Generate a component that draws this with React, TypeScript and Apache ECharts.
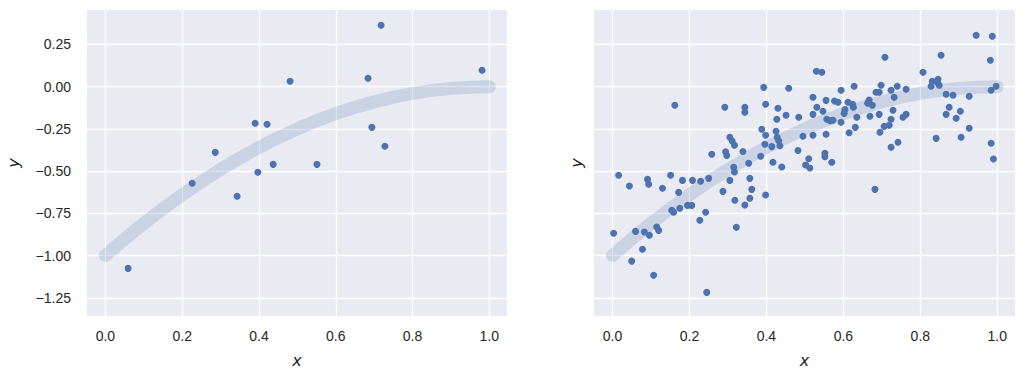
import React, { useEffect, useRef } from "react";
import * as echarts from "echarts";

// Left panel: 15 noisy samples
const leftX = [0.059, 0.226, 0.286, 0.343, 0.390, 0.397, 0.421, 0.437, 0.481, 0.551, 0.684, 0.694, 0.718, 0.728, 0.981];
const leftY = [-1.076, -0.572, -0.389, -0.649, -0.217, -0.507, -0.223, -0.460, 0.032, -0.460, 0.050, -0.241, 0.364, -0.353, 0.097];

// Right panel: ~150 noisy samples
const rightX = [
  0.162, 0.292, 0.305, 0.311, 0.317, 0.258, 0.294, 0.297, 0.016, 0.044,
  0.091, 0.094, 0.151, 0.130, 0.182, 0.208, 0.229, 0.250, 0.305, 0.315,
  0.317, 0.172, 0.287, 0.318, 0.154, 0.159, 0.175, 0.195, 0.206, 0.242,
  0.227, 0.322, 0.003, 0.060, 0.083, 0.096, 0.115, 0.120, 0.078, 0.050,
  0.107, 0.245, 0.530, 0.544, 0.393, 0.458, 0.594, 0.628, 0.521, 0.555,
  0.577, 0.586, 0.612, 0.624, 0.626, 0.663, 0.667, 0.344, 0.344, 0.398,
  0.430, 0.531, 0.547, 0.521, 0.451, 0.427, 0.484, 0.604, 0.602, 0.635,
  0.669, 0.557, 0.565, 0.573, 0.594, 0.631, 0.615, 0.388, 0.398, 0.425,
  0.428, 0.432, 0.435, 0.414, 0.396, 0.495, 0.521, 0.555, 0.339, 0.385,
  0.482, 0.510, 0.552, 0.552, 0.354, 0.417, 0.440, 0.502, 0.513, 0.570,
  0.357, 0.362, 0.357, 0.344, 0.398, 0.945, 0.987, 0.708, 0.854, 0.982,
  0.807, 0.831, 0.828, 0.846, 0.844, 0.849, 0.698, 0.740, 0.763, 0.724,
  0.685, 0.693, 0.732, 0.867, 0.885, 0.927, 0.984, 0.997, 0.675, 0.875,
  0.729, 0.904, 0.693, 0.763, 0.755, 0.724, 0.867, 0.893, 0.706, 0.719,
  0.695, 0.927, 0.841, 0.906, 0.742, 0.724, 0.984, 0.990, 0.682,
];
const rightY = [
  -0.110, -0.122, -0.300, -0.322, -0.347, -0.400, -0.385, -0.408, -0.525, -0.588,
  -0.549, -0.578, -0.525, -0.602, -0.555, -0.555, -0.560, -0.543, -0.555, -0.477,
  -0.505, -0.626, -0.620, -0.673, -0.732, -0.744, -0.720, -0.703, -0.703, -0.744,
  -0.791, -0.833, -0.868, -0.857, -0.861, -0.880, -0.831, -0.851, -0.963, -1.033,
  -1.117, -1.218, 0.091, 0.085, -0.004, -0.009, -0.021, 0.002, -0.063, -0.081,
  -0.085, -0.092, -0.092, -0.104, -0.122, -0.098, -0.079, -0.122, -0.152, -0.104,
  -0.128, -0.122, -0.146, -0.164, -0.169, -0.193, -0.181, -0.136, -0.158, -0.181,
  -0.175, -0.193, -0.201, -0.199, -0.211, -0.241, -0.273, -0.252, -0.288, -0.264,
  -0.300, -0.320, -0.350, -0.355, -0.341, -0.294, -0.288, -0.282, -0.384, -0.412,
  -0.378, -0.427, -0.395, -0.415, -0.454, -0.448, -0.476, -0.464, -0.482, -0.448,
  -0.543, -0.608, -0.661, -0.701, -0.642, 0.305, 0.299, 0.174, 0.186, 0.156,
  0.085, 0.032, 0.002, 0.044, 0.026, 0.008, 0.008, 0.002, -0.015, -0.021,
  -0.033, -0.033, -0.063, -0.045, -0.051, -0.057, -0.021, 0.002, -0.110, -0.122,
  -0.140, -0.146, -0.164, -0.164, -0.181, -0.193, -0.164, -0.187, -0.235, -0.229,
  -0.270, -0.246, -0.306, -0.300, -0.329, -0.359, -0.335, -0.428, -0.608,
];

// Underlying smooth trend drawn in both panels
const curveX = [0, 0.1, 0.2, 0.3, 0.4, 0.5, 0.6, 0.7, 0.8, 0.9, 1.0];
const curveY = [-1.0, -0.81, -0.64, -0.49, -0.36, -0.25, -0.16, -0.09, -0.04, -0.01, 0.0];

// Tick values
const xTicks = [0, 0.2, 0.4, 0.6, 0.8, 1.0];
const yTicks = [-1.25, -1.0, -0.75, -0.5, -0.25, 0, 0.25];

const zip = (a: number[], b: number[]) => a.map((v, i) => [v, b[i]]);
const fmt = (d: number) => (v: number) => {
  const s = Math.abs(v).toFixed(d);
  return v < -1e-9 ? "\u2212" + s : s;
};

const TICK_FONT = "Arial, 'Liberation Sans', sans-serif";
const LABEL_FONT = "'DejaVu Sans', sans-serif";
const TEXT = "#262626";
const DOT = "#4c72b0";

export default function App() {
  const ref = useRef<HTMLDivElement>(null);
  useEffect(() => {
    if (!ref.current) return;
    const chart = echarts.init(ref.current, undefined, { renderer: "svg" });
    const mkX = (i: number) => ({
      type: "value",
      gridIndex: i,
      min: -0.048,
      max: 1.046,
      axisLine: { show: false },
      axisTick: { show: false, customValues: xTicks },
      axisLabel: {
        customValues: xTicks,
        formatter: fmt(1),
        margin: 13,
        fontSize: 14,
        color: TEXT,
        fontFamily: TICK_FONT,
      },
      splitLine: { show: true, lineStyle: { color: "#ffffff", width: 1.3 } },
      name: "x",
      nameLocation: "middle",
      nameGap: 36,
      nameTextStyle: { fontSize: 16, fontStyle: "italic", color: TEXT, fontFamily: LABEL_FONT },
    });
    const mkY = (i: number) => ({
      type: "value",
      gridIndex: i,
      min: -1.358,
      max: 0.454,
      axisLine: { show: false },
      axisTick: { show: false, customValues: yTicks },
      axisLabel: {
        show: i === 0,
        customValues: yTicks,
        formatter: fmt(2),
        margin: 16,
        fontSize: 14,
        color: TEXT,
        fontFamily: TICK_FONT,
      },
      splitLine: { show: true, lineStyle: { color: "#ffffff", width: 1.3 } },
      name: "y",
      nameLocation: "middle",
      nameGap: i === 0 ? 66 : 10,
      nameRotate: 90,
      nameTextStyle: { fontSize: 16, fontStyle: "italic", color: TEXT, fontFamily: LABEL_FONT },
    });
    const curve = (i: number) => ({
      type: "line",
      xAxisIndex: i,
      yAxisIndex: i,
      data: zip(curveX, curveY),
      smooth: 0.5,
      showSymbol: false,
      symbol: "none",
      z: 1,
      lineStyle: { color: "rgba(76,114,176,0.2)", width: 13, cap: "round", join: "round" },
      silent: true,
    });
    const dots = (i: number, xs: number[], ys: number[]) => ({
      type: "scatter",
      xAxisIndex: i,
      yAxisIndex: i,
      data: zip(xs, ys),
      symbolSize: 7,
      z: 3,
      itemStyle: { color: DOT, opacity: 1 },
    });
    chart.setOption({
      animation: false,
      backgroundColor: "#ffffff",
      grid: [
        { left: 87, top: 10, width: 420, height: 306, show: true, backgroundColor: "#eaeaf2", borderWidth: 0 },
        { left: 594, top: 10, width: 421, height: 306, show: true, backgroundColor: "#eaeaf2", borderWidth: 0 },
      ],
      xAxis: [mkX(0), mkX(1)],
      yAxis: [mkY(0), mkY(1)],
      series: [curve(0), curve(1), dots(0, leftX, leftY), dots(1, rightX, rightY)],
    });
    return () => chart.dispose();
  }, []);
  return (
    <div
      ref={ref}
      style={{ position: "fixed", left: 0, top: 0, width: 1025, height: 375 }}
    />
  );
}
